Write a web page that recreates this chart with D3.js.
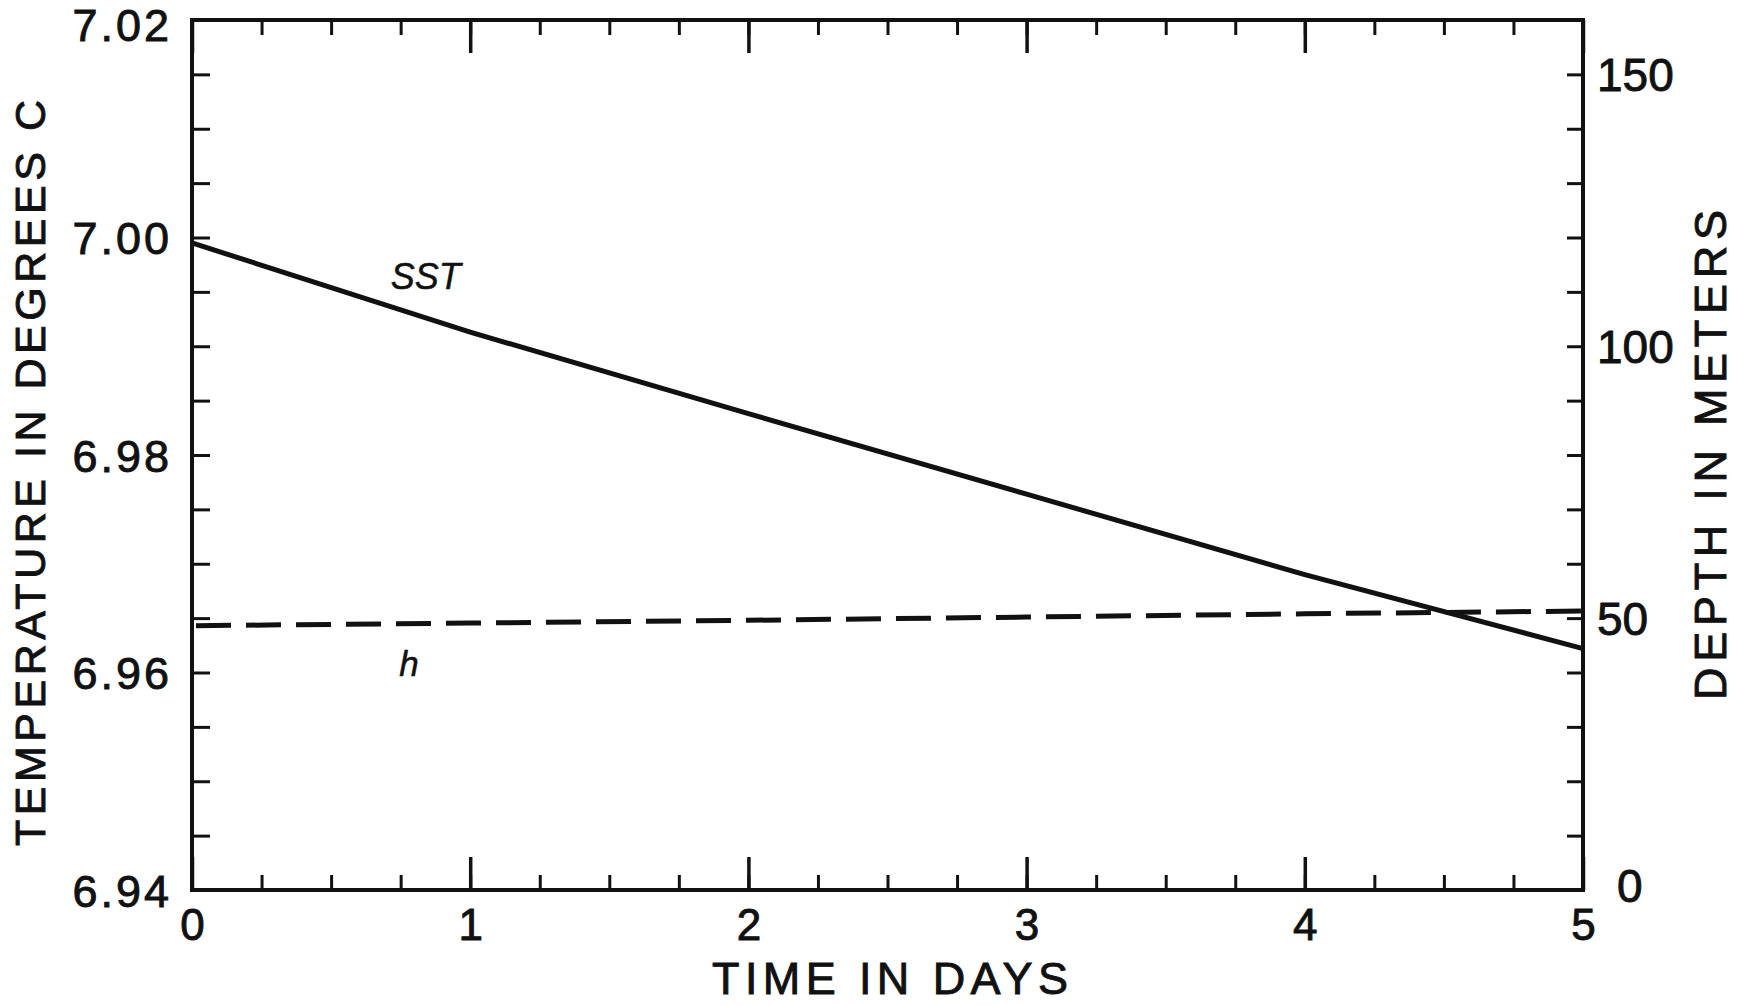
<!DOCTYPE html>
<html>
<head>
<meta charset="utf-8">
<script src="https://cdn.jsdelivr.net/npm/d3@7"></script>
<style>
  html, body { margin: 0; padding: 0; background: #fff; }
  svg { display: block; }
  text { font-family: "Liberation Sans", Arial, Helvetica, sans-serif; fill: #111; stroke: #111; stroke-width: 0.9px; }
</style>
</head>
<body>
<svg id="chart" width="1745" height="1005"></svg>
<script>
// Model output: sea-surface temperature and mixed-layer depth over five days
const days = [0, 1, 2, 3, 4, 5];
const sstValues = [6.9995, 6.9913, 6.9838, 6.9764, 6.9690, 6.9622];  // degrees C
const depthValues = [48.6, 49.1, 49.6, 50.2, 50.8, 51.3];            // metres

// Axis ticks and labels
const dayMajorTicks = [0, 1, 2, 3, 4, 5];
const dayMinorTicks = d3.range(0, 5.0001, 0.25);
const tempLabelTicks = [6.94, 6.96, 6.98, 7.00, 7.02];
const tempMinorTicks = d3.range(6.94, 7.02001, 0.005);
const depthLabelTicks = [0, 50, 100, 150];
const depthMinorTicks = d3.range(0, 160.001, 10);

const xTitle = "TIME IN DAYS";
const yLeftTitle = "TEMPERATURE IN DEGREES C";
const yRightTitle = "DEPTH IN METERS";

const svg = d3.select("#chart");
const m = { left: 192, right: 1583, top: 20, bottom: 890 };
const ink = "#111";

const x = d3.scaleLinear().domain([0, 5]).range([m.left, m.right]);
const yT = d3.scaleLinear().domain([6.94, 7.02]).range([m.bottom, m.top]);
const yD = d3.scaleLinear().domain([0, 160]).range([m.bottom, m.top]);

function styleAxis(g, width) {
  g.select(".domain").remove();
  g.selectAll(".tick line").attr("stroke", ink).attr("stroke-width", width);
}

// Minor ticks (no labels) on all four sides, pointing inward
svg.append("g").attr("transform", `translate(0,${m.bottom})`)
  .call(d3.axisTop(x).tickValues(dayMinorTicks).tickSize(15).tickFormat(""))
  .call(g => styleAxis(g, 3));
svg.append("g").attr("transform", `translate(0,${m.top})`)
  .call(d3.axisBottom(x).tickValues(dayMinorTicks).tickSize(15).tickFormat(""))
  .call(g => styleAxis(g, 3));
svg.append("g").attr("transform", `translate(${m.left},0)`)
  .call(d3.axisRight(yT).tickValues(tempMinorTicks).tickSize(18).tickFormat(""))
  .call(g => styleAxis(g, 3));
svg.append("g").attr("transform", `translate(${m.right},0)`)
  .call(d3.axisLeft(yD).tickValues(depthMinorTicks).tickSize(16).tickFormat(""))
  .call(g => styleAxis(g, 3));

// Major day ticks, longer, top and bottom
svg.append("g").attr("transform", `translate(0,${m.bottom})`)
  .call(d3.axisTop(x).tickValues(dayMajorTicks).tickSize(33).tickFormat(""))
  .call(g => styleAxis(g, 3.5));
svg.append("g").attr("transform", `translate(0,${m.top})`)
  .call(d3.axisBottom(x).tickValues(dayMajorTicks).tickSize(33).tickFormat(""))
  .call(g => styleAxis(g, 3.5));

// Tick labels
const bottomLabels = svg.append("g").attr("transform", `translate(0,${m.bottom})`)
  .call(d3.axisBottom(x).tickValues(dayMajorTicks).tickSize(0).tickPadding(0).tickFormat(d3.format("d")));
bottomLabels.select(".domain").remove();
bottomLabels.selectAll(".tick text")
  .attr("y", 50).attr("dy", null)
  .style("font-size", "44px").attr("fill", ink);

const leftLabels = svg.append("g").attr("transform", `translate(${m.left},0)`)
  .call(d3.axisLeft(yT).tickValues(tempLabelTicks).tickSize(0).tickPadding(0).tickFormat(d3.format(".2f")));
leftLabels.select(".domain").remove();
leftLabels.selectAll(".tick text")
  .attr("x", -20).attr("dy", d => d === 7.02 ? "0.45em" : "0.36em")
  .style("font-size", "45px").style("letter-spacing", "3px").attr("fill", ink);

const rightLabels = svg.append("g").attr("transform", `translate(${m.right},0)`)
  .call(d3.axisRight(yD).tickValues(depthLabelTicks).tickSize(0).tickPadding(0).tickFormat(d3.format("d")));
rightLabels.select(".domain").remove();
rightLabels.selectAll(".tick text")
  .attr("x", d => d === 0 ? 34 : 14).attr("dy", d => d === 0 ? "0.25em" : "0.36em")
  .style("font-size", "46px").attr("fill", ink);

// Frame
svg.append("rect")
  .attr("x", m.left).attr("y", m.top)
  .attr("width", m.right - m.left).attr("height", m.bottom - m.top)
  .attr("fill", "none").attr("stroke", ink).attr("stroke-width", 4);

// Series
const sstLine = d3.line().x((d, i) => x(days[i])).y(d => yT(d));
svg.append("path").datum(sstValues)
  .attr("d", sstLine)
  .attr("fill", "none").attr("stroke", ink).attr("stroke-width", 5);

const depthLine = d3.line().x((d, i) => x(days[i])).y(d => yD(d));
svg.append("path").datum(depthValues)
  .attr("d", depthLine)
  .attr("fill", "none").attr("stroke", ink).attr("stroke-width", 5)
  .attr("stroke-dasharray", "35,15").attr("stroke-dashoffset", -4);

// Curve labels
svg.append("text")
  .attr("x", x(0.84)).attr("y", yT(6.9953))
  .attr("text-anchor", "middle")
  .style("font-size", "36px").style("font-style", "italic")
  .style("stroke-width", "0.5px")
  .text("SST");
svg.append("text")
  .attr("x", x(0.78)).attr("y", yD(39.4))
  .attr("text-anchor", "middle")
  .style("font-size", "35px").style("font-style", "italic")
  .style("stroke-width", "0.5px")
  .text("h");

// Axis titles
svg.append("text")
  .attr("x", 890).attr("y", 994)
  .attr("text-anchor", "middle")
  .attr("textLength", 356).attr("lengthAdjust", "spacing")
  .style("font-size", "45px")
  .text(xTitle);

svg.append("text")
  .attr("transform", "translate(45,473) rotate(-90)")
  .attr("text-anchor", "middle")
  .attr("textLength", 746).attr("lengthAdjust", "spacing")
  .style("font-size", "43px")
  .text(yLeftTitle);

svg.append("text")
  .attr("transform", "translate(1726,455) rotate(-90)")
  .attr("text-anchor", "middle")
  .attr("textLength", 490).attr("lengthAdjust", "spacing")
  .style("font-size", "45px")
  .text(yRightTitle);
</script>
</body>
</html>
